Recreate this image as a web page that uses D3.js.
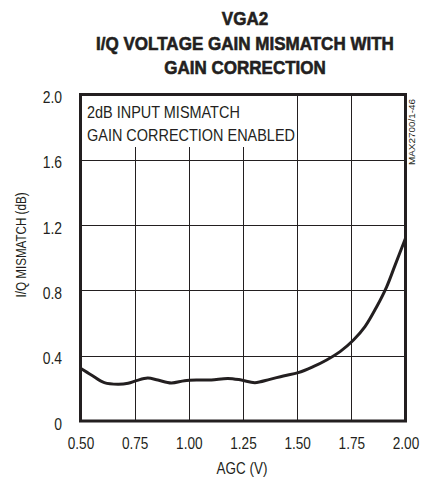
<!DOCTYPE html>
<html>
<head>
<meta charset="utf-8">
<script src="https://cdn.jsdelivr.net/npm/d3@7"></script>
<style>
  html, body { margin: 0; padding: 0; background: #fff; }
  svg { display: block; }
  text { font-family: "Liberation Sans", Arial, sans-serif; fill: #231f20; }
</style>
</head>
<body>
<svg id="chart" width="421" height="481"></svg>
<script>
// AGC control voltage (V) and measured I/Q gain mismatch (dB)
const agcVolts = [0.50, 0.55, 0.61, 0.673, 0.72, 0.758, 0.81, 0.857, 0.919, 0.98, 1.042, 1.104, 1.18, 1.242, 1.305, 1.374, 1.436, 1.505, 1.574, 1.636, 1.698, 1.76, 1.813, 1.867, 1.913, 1.952, 2.00];
const mismatchDb = [0.323, 0.282, 0.235, 0.225, 0.231, 0.247, 0.263, 0.251, 0.233, 0.247, 0.251, 0.251, 0.261, 0.251, 0.235, 0.255, 0.276, 0.296, 0.333, 0.374, 0.425, 0.496, 0.578, 0.70, 0.822, 0.955, 1.119];

const xTicks = [0.50, 0.75, 1.00, 1.25, 1.50, 1.75, 2.00];
const yTicks = [0, 0.4, 0.8, 1.2, 1.6, 2.0];
const titleLines = ["VGA2", "I/Q VOLTAGE GAIN MISMATCH WITH", "GAIN CORRECTION"];
const noteLines = ["2dB INPUT MISMATCH", "GAIN CORRECTION ENABLED"];

const svg = d3.select("#chart");
const plot = { left: 80.5, right: 405.5, top: 94.5, bottom: 421 };

const x = d3.scaleLinear().domain([0.5, 2.0]).range([plot.left, plot.right]);
const y = d3.scaleLinear().domain([0, 2.0]).range([plot.bottom, plot.top]);

// Squeeze text horizontally to get a narrow typeface look
function condense(sel, factor) {
  sel.each(function () {
    const w = this.getComputedTextLength();
    d3.select(this).attr("textLength", w * factor).attr("lengthAdjust", "spacingAndGlyphs");
  });
}

// Title
svg.append("g").selectAll("text").data(titleLines).join("text")
  .attr("x", 245).attr("y", (d, i) => 25 + i * 24.5)
  .attr("text-anchor", "middle")
  .style("font-weight", "bold").style("font-size", "18.5px")
  .style("stroke", "#231f20").style("stroke-width", "0.6px")
  .text(d => d)
  .call(condense, 0.92);

// Grid
const grid = svg.append("g").attr("stroke", "#231f20").attr("stroke-width", 1);
grid.selectAll("line.h").data(yTicks.slice(1, -1)).join("line")
  .attr("x1", plot.left).attr("x2", plot.right)
  .attr("y1", d => Math.round(y(d)) + 0.5).attr("y2", d => Math.round(y(d)) + 0.5);
// vertical grid lines stop below the note where they run under it
const noteBoxRight = 290, noteBoxBottom = 147;
grid.selectAll("line.v").data(xTicks.slice(1, -1)).join("line")
  .attr("x1", d => Math.round(x(d)) + 0.5).attr("x2", d => Math.round(x(d)) + 0.5)
  .attr("y1", d => x(d) < noteBoxRight ? noteBoxBottom : plot.top)
  .attr("y2", plot.bottom);

// Axes (labels only, frame drawn separately)
const xAxis = d3.axisBottom(x).tickValues(xTicks).tickSize(0).tickPadding(0).tickFormat(d3.format(".2f"));
svg.append("g").attr("transform", `translate(0,${plot.bottom})`).call(xAxis)
  .call(g => g.select(".domain").remove())
  .selectAll("text").attr("dy", null).attr("y", 28).style("font-size", "16px")
  .call(condense, 0.85);

const yAxis = d3.axisLeft(y).tickValues(yTicks).tickSize(0).tickPadding(0)
  .tickFormat(d => d === 0 ? "0" : d3.format(".1f")(d));
svg.append("g").attr("transform", `translate(62,0)`).call(yAxis)
  .call(g => g.select(".domain").remove())
  .selectAll("text").attr("dy", null).attr("y", 8).style("font-size", "16px")
  .call(condense, 0.87);

// Axis titles
svg.append("text").attr("x", 242).attr("y", 474).attr("text-anchor", "middle")
  .style("font-size", "16px").text("AGC (V)")
  .call(condense, 0.84);
svg.append("text").attr("transform", "translate(26,245) rotate(-90)").attr("text-anchor", "middle")
  .style("font-size", "15.5px").text("I/Q MISMATCH (dB)")
  .call(condense, 0.75);

// Data curve
const line = d3.line().x((d, i) => x(agcVolts[i])).y(d => y(d)).curve(d3.curveCatmullRom.alpha(0.5));
svg.append("path").datum(mismatchDb)
  .attr("d", line).attr("fill", "none").attr("stroke", "#231f20")
  .attr("stroke-width", 3).attr("stroke-linejoin", "round");

// Frame
svg.append("rect")
  .attr("x", plot.left).attr("y", plot.top)
  .attr("width", plot.right - plot.left).attr("height", plot.bottom - plot.top)
  .attr("fill", "none").attr("stroke", "#231f20").attr("stroke-width", 3);

// Test-condition note
svg.append("g").selectAll("text").data(noteLines).join("text")
  .attr("x", 87).attr("y", (d, i) => 118 + i * 23)
  .style("font-size", "17px").text(d => d)
  .call(condense, 0.85);

// Figure code
svg.append("text").attr("transform", "translate(415,165) rotate(-90)")
  .style("font-size", "9px").text("MAX2700/1-46")
  .call(condense, 1.1);
</script>
</body>
</html>
